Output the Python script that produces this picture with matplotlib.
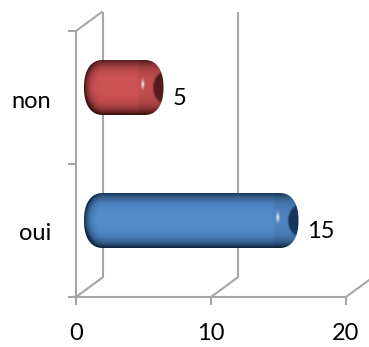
import numpy as np
import matplotlib
matplotlib.use("Agg")
import matplotlib.pyplot as plt
from matplotlib.patches import PathPatch
from matplotlib.path import Path

categories = ["oui", "non"]
values = [15, 5]
xticks = [0, 10, 20]
bar_mid = {"oui": (84, 140, 205), "non": (205, 82, 84)}
bar_dark = {"oui": (16, 38, 66), "non": (62, 18, 20)}

W, H = 369, 347
X0, X20, Y0, Y2 = 76, 346, 297, 31
DX, DY = 26.5, 19.5   # depth of the 3-D box in px
GREY = "#a6a6a6"
FS = 17

plt.rcParams["font.family"] = ["Lato", "DejaVu Sans"]
fig = plt.figure(figsize=(W / 100, H / 100), dpi=100)
ax = fig.add_axes([X0 / W, 1 - Y0 / H, (X20 - X0) / W, (Y0 - Y2) / H])
ax.set_xlim(0, 20)
ax.set_ylim(0, 2)
ax.axis("off")

ux = (X20 - X0) / 20   # px per x unit
uy = (Y0 - Y2) / 2     # px per y unit
ddx, ddy = DX / ux, DY / uy


def seg(x, y, lw=1.5):
    ax.plot(x, y, color=GREY, lw=lw, clip_on=False, zorder=1, solid_capstyle="butt")


# walls and axes
seg([0, 0], [0, 2])
seg([0, ddx], [2, 2 + ddy])
seg([ddx, ddx], [ddy, 2 + ddy])
seg([10 + ddx, 10 + ddx], [ddy, 2 + ddy])
seg([-8 / ux, 20], [0, 0])
for t in xticks:
    seg([t, t], [0, -8 / uy])
    seg([t, t + ddx], [0, ddy])
    ax.text(t, -37 / uy, str(t), ha="center", va="center", fontsize=FS, color="black", clip_on=False)
for t in [1, 2]:
    seg([-8 / ux, 0], [t, t])

# capsules
left_off, right_off = 8 / ux, 20 / ux
half_h = 27.5 / uy
RX = 19  # px, end-cap radius
for i, (cat, v) in enumerate(zip(categories, values)):
    yc = i + 0.5 + 10 / uy
    xa, xb = left_off, v + right_off
    L = (xb - xa) * ux
    px_w = int(L) * 3
    px_h = int(2 * half_h * uy) * 3
    u = np.linspace(0, L, px_w)
    w = np.linspace(-1, 1, px_h)
    U, V = np.meshgrid(u, w)
    # roundness: distance from the capsule's spine, elliptic at the ends
    ex = np.clip((RX - U) / RX, 0, None)
    r = np.sqrt(ex ** 2 + (V + 0.03) ** 2)
    sh = np.clip(1 - r ** 3.4, 0, 1) ** 0.85
    mid = np.array(bar_mid[cat]) / 255
    dark = np.array(bar_dark[cat]) / 255
    img = dark + (mid - dark) * sh[..., None]
    # soft band where the right cap starts
    band = np.clip((U - (L - 27)) / 4, 0, 1)[..., None]
    img = img * (1 - 0.07 * band)
    # dark end ellipse
    e = ((U - (L + 1)) / 12) ** 2 + (V / 0.6) ** 2
    mask = np.clip((1.1 - e) / 0.35, 0, 1)[..., None]
    img = img * (1 - mask) + dark * 1.4 * mask
    # specular highlight
    h = np.exp(-(((U - (L - 21)) / 1.4) ** 2) - ((V + 0.12) / 0.15) ** 2)[..., None]
    img = img + (1 - img) * 0.9 * h
    img = np.clip(img, 0, 1)
    im = ax.imshow(img, extent=[xa, xb, yc - half_h, yc + half_h], origin="upper",
                   aspect="auto", zorder=3, interpolation="bilinear")
    # capsule outline with super-elliptic ends
    t = np.linspace(-np.pi / 2, np.pi / 2, 60)
    p = 2 / 2.3
    cx = np.sign(np.cos(t)) * np.abs(np.cos(t)) ** p
    cy = np.sign(np.sin(t)) * np.abs(np.sin(t)) ** p
    rx = RX / ux
    xs = np.r_[xb - rx + rx * cx, xa + rx - rx * cx]
    ys = np.r_[yc + half_h * cy, yc - half_h * cy]
    clip = PathPatch(Path(np.c_[xs, ys]), transform=ax.transData, fc="none", ec="none")
    ax.add_patch(clip)
    im.set_clip_path(clip)
    ax.text(xb + 9 / ux, i + 0.5 - 1 / uy, str(v), ha="left", va="center", fontsize=FS, color="black", clip_on=False)
    ax.text(-25 / ux, i + 0.5 - 3.5 / uy, cat, ha="right", va="center", fontsize=FS, color="black", clip_on=False)

ax.set_xlim(0, 20)
ax.set_ylim(0, 2)
fig.savefig("out.png", dpi=100)
